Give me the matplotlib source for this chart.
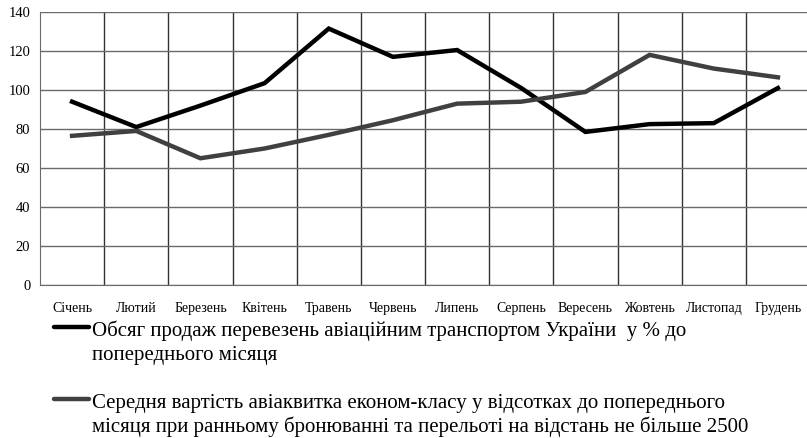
import matplotlib.pyplot as plt
from matplotlib.lines import Line2D

plt.rcParams['font.family'] = ['Liberation Serif', 'DejaVu Serif']

months = ['Січень', 'Лютий', 'Березень', 'Квітень', 'Травень', 'Червень',
          'Липень', 'Серпень', 'Вересень', 'Жовтень', 'Листопад', 'Грудень']
sales = [94, 81, 92, 103.5, 131.5, 117, 120.5, 101, 78.5, 82.5, 83, 101]
price = [76.5, 79, 65, 70, 77, 84.5, 93, 94, 99, 118, 111, 106.5]

label1 = ['Обсяг продаж перевезень авіаційним транспортом України  у % до',
          'попереднього місяця']
label2 = ['Середня вартість авіаквитка економ-класу у відсотках до попереднього',
          'місяця при ранньому бронюванні та перельоті на відстань не більше 2500']

W, H = 807, 438
fig = plt.figure(figsize=(W / 100, H / 100), dpi=100)
ax = fig.add_axes([40 / W, (H - 285) / H, 770 / W, 273 / H])

x = range(len(months))
ax.plot(x, sales, color='black', lw=3.2, solid_joinstyle='miter', zorder=3)
ax.plot(x, price, color='#404040', lw=3.2, solid_joinstyle='miter', zorder=3)

ax.set_xlim(-0.5, 11.5)
ax.set_ylim(0, 140)
ax.set_yticks(range(0, 141, 20))
ax.set_xticks(list(x))
ax.set_xticklabels(months, fontsize=10)
ax.set_xticks([i + 0.5 for i in range(11)], minor=True)
ax.tick_params(axis='x', which='both', length=0, pad=12)
ax.tick_params(axis='y', length=0, pad=7, labelsize=10.5)
ax.grid(axis='y', color='#6a6a6a', lw=1)
ax.grid(axis='x', which='minor', color='#333333', lw=1)
ax.set_axisbelow(True)
for s in ['top', 'right']:
    ax.spines[s].set_visible(False)
ax.spines['left'].set_color('#6a6a6a')
ax.spines['bottom'].set_color('#6a6a6a')

# legend below the plot
for yline, ybase, col, lines in [(327, 336, 'black', label1), (399, 408, '#404040', label2)]:
    fig.add_artist(Line2D([54 / W, 89 / W], [1 - yline / H] * 2, color=col, lw=3.2,
                          solid_capstyle='round'))
    for k, txt in enumerate(lines):
        fig.text(92 / W, 1 - (ybase + 24 * k) / H, txt, fontsize=15,
                 va='baseline', ha='left')

fig.savefig('out.png', dpi=100)
